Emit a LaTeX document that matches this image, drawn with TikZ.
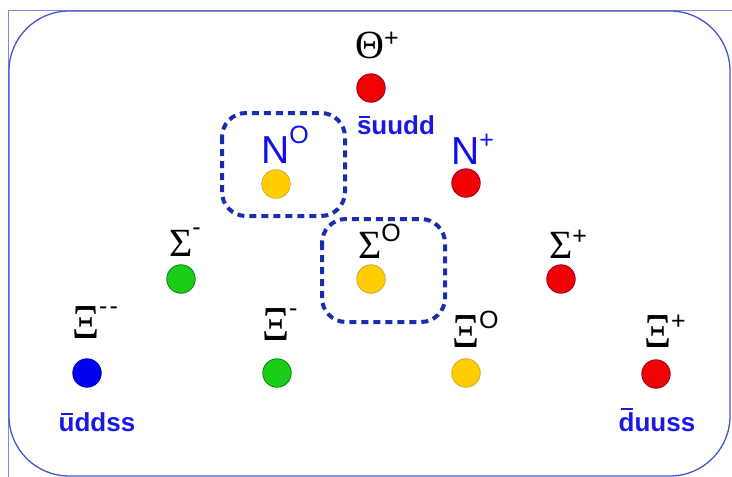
\documentclass[tikz,border=0pt]{standalone}
\usepackage{graphicx}
\usepackage{fontspec}
\setmainfont{Liberation Serif}
\setsansfont{Liberation Sans}
\definecolor{framec}{RGB}{70,85,205}
\definecolor{dashc}{RGB}{25,45,175}
\definecolor{quarkc}{RGB}{25,25,225}
\definecolor{nc}{RGB}{15,15,235}
\definecolor{pred}{RGB}{240,0,0}
\definecolor{pgreen}{RGB}{25,205,25}
\definecolor{pyellow}{RGB}{255,205,0}
\definecolor{pblue}{RGB}{0,0,240}
\newcommand\ssup[2][9pt]{\raisebox{#1}{\sffamily\fontsize{25}{25}\selectfont #2}}
\newcommand\XiG{\scalebox{1.05}[1.22]{Ξ}}
\newcommand\qbar[1]{\setbox0\hbox{#1}\rlap{\raisebox{\dimexpr\ht0+2pt\relax}{\hbox to\wd0{\hss\rule{0.75\wd0}{2.2pt}\hss}}}\box0}
\tikzset{
  particle/.style={circle, minimum size=28.5pt, inner sep=0pt, line width=0.8pt},
  redp/.style={particle, fill=pred, draw=pred!75!blue!80!black},
  greenp/.style={particle, fill=pgreen, draw=pgreen!60!black},
  yellowp/.style={particle, fill=pyellow, draw=pyellow!55!gray},
  bluep/.style={particle, fill=pblue, draw=pblue!80!black},
  greek/.style={font=\fontsize{40}{40}\selectfont, text=black, inner sep=0pt, anchor=base west},
  nlab/.style={font=\sffamily\fontsize{39}{39}\selectfont, text=nc, inner sep=0pt, anchor=base west},
  quark/.style={font=\sffamily\bfseries\fontsize{26}{26}\selectfont, text=quarkc, inner sep=0pt, anchor=base},
  dbox/.style={draw=dashc, line width=4pt, dash pattern=on 7pt off 5pt, rounded corners=24pt},
  framebox/.style={draw=framec, line width=1.3pt, rounded corners=60pt},
  frameline/.style={draw=framec!70, line width=0.8pt}
}
\begin{document}
\begin{tikzpicture}[x=1pt,y=-1pt]
\useasboundingbox (0,0) rectangle (732,477);
\draw[frameline] (8,477) -- (8,10) -- (732,10);
\draw[framebox] (9,11) rectangle (730,476);
% dashed boxes
\draw[dbox] (222,113) rectangle (345,216);
\draw[dbox] (322,219) rectangle (445,322);
% particles
\node[redp] (theta) at (371,88) {};
\node[yellowp] (n0) at (276,184) {};
\node[redp] (nplus) at (466,183) {};
\node[greenp] (sigm) at (181,279) {};
\node[yellowp] (sig0) at (371,279) {};
\node[redp] (sigp) at (561,279) {};
\node[bluep] (ximm) at (87,373) {};
\node[greenp] (xim) at (277,373) {};
\node[yellowp] (xi0) at (466,373) {};
\node[redp] (xip) at (656,374) {};
% labels
\node[greek] (ltheta) at (355,58) {Θ\ssup[12pt]{+}};
\node[nlab] (ln0) at (261,163) {N\ssup[20pt]{O}};
\node[nlab] (lnp) at (451,164) {N\ssup[16pt]{+}};
\node[greek] (lsigm) at (169,256) {Σ\ssup[21pt]{-}};
\node[greek] (lsig0) at (358,258) {Σ\ssup[17pt]{O}};
\node[greek] (lsigp) at (549,258) {Σ\ssup[14pt]{+}};
\node[greek] (lximm) at (72,338) {\XiG\ssup[24pt]{-\kern2pt-}};
\node[greek] (lxim) at (262,340) {\XiG\ssup[24pt]{-}};
\node[greek] (lxi0) at (452,347) {\XiG\ssup[19pt]{O}};
\node[greek] (lxip) at (644,347) {\XiG\ssup[18pt]{+}};
\node[quark] (qtheta) at (396,134) {\qbar{s}uudd};
\node[quark] (qximm) at (97,431) {\qbar{u}ddss};
\node[quark] (qxip) at (657,431) {\qbar{d}uuss};
\end{tikzpicture}
\end{document}
